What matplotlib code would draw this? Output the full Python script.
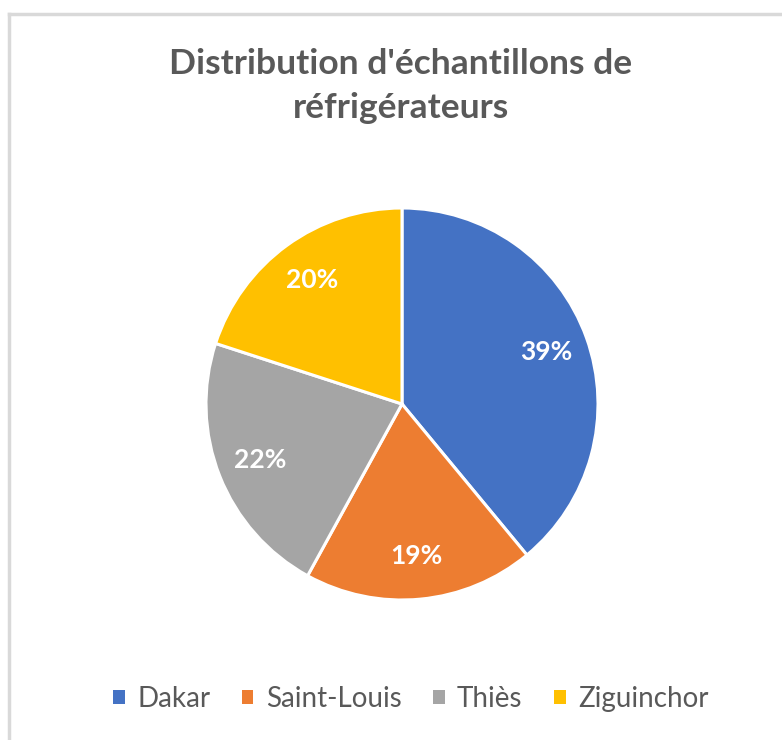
import matplotlib
matplotlib.use('Agg')
import matplotlib.pyplot as plt
from matplotlib.lines import Line2D
from matplotlib.patches import Patch

# Chart data
categories = ['Dakar', 'Saint-Louis', 'Thiès', 'Ziguinchor']
shares = [39, 19, 22, 20]
colors = ['#4472C4', '#ED7D31', '#A5A5A5', '#FFC000']
title_lines = ["Distribution d'échantillons de", 'réfrigérateurs']

W, H = 782, 740
fig = plt.figure(figsize=(W / 100, H / 100), dpi=100)
fig.patch.set_facecolor('white')

# Chart area border (only left and top edges visible)
border = '#D9D9D9'
fig.add_artist(Line2D([8.5 / W, 8.5 / W], [0, 1 - 14 / H], color=border, lw=2.5, transform=fig.transFigure))
fig.add_artist(Line2D([8.5 / W, 1], [1 - 14 / H, 1 - 14 / H], color=border, lw=2.5, transform=fig.transFigure))

# Pie placed by its centre and radius in pixels
cx, cy, r = 402, 404, 196
ax = fig.add_axes([(cx - r) / W, (H - cy - r) / H, 2 * r / W, 2 * r / H])
wedges, _, autotexts = ax.pie(shares, colors=colors, startangle=90, counterclock=False,
                              autopct='%1.0f%%', pctdistance=0.78, radius=1,
                              wedgeprops=dict(edgecolor='white', linewidth=2.2))
for t in autotexts:
    t.set_color('white')
    t.set_fontfamily('Lato')
    t.set_fontweight('bold')
    t.set_fontsize(19)
ax.set_xlim(-1, 1)
ax.set_ylim(-1, 1)
ax.set_aspect('equal')
ax.axis('off')

# Title, two lines
tx = 401 / W
fig.text(tx, 1 - 64 / H, title_lines[0], ha='center', va='center', fontsize=25.5,
         fontfamily='Lato', fontweight='bold', color='#595959')
fig.text(tx, 1 - 108 / H, title_lines[1], ha='center', va='center', fontsize=25.5,
         fontfamily='Lato', fontweight='bold', color='#595959')

# Legend along the bottom
handles = [Patch(facecolor=c, edgecolor='none') for c in colors]
leg = fig.legend(handles, categories, loc='center', bbox_to_anchor=(411 / W, 1 - 699 / H),
                 ncol=4, frameon=False, handlelength=0.4, handleheight=0.4,
                 handletextpad=0.45, columnspacing=1.15,
                 prop=dict(family='Lato', size=20))
for t in leg.get_texts():
    t.set_color('#595959')

fig.savefig('out.png', dpi=100)
